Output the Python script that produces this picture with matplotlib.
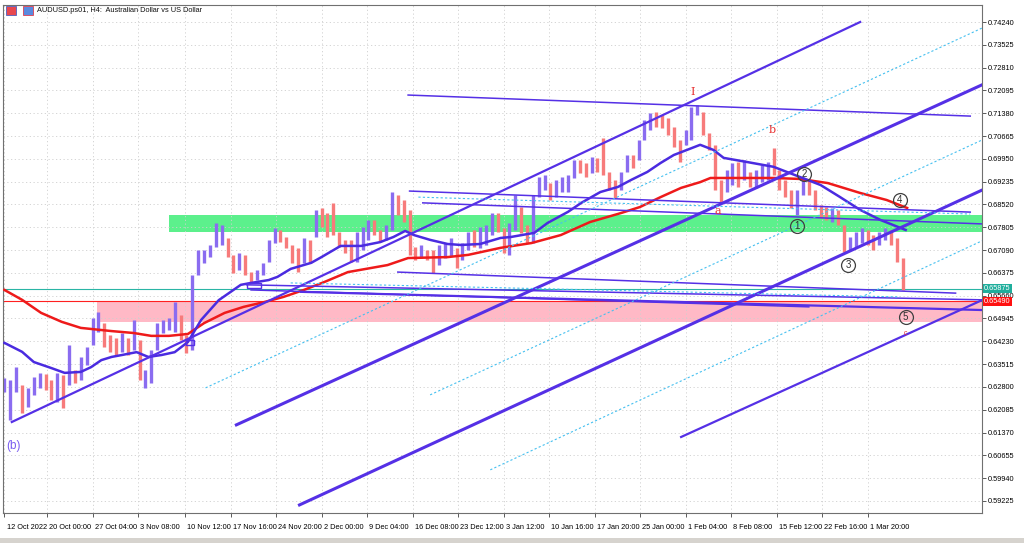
import matplotlib
matplotlib.use("Agg")
import matplotlib.pyplot as plt
import matplotlib.transforms as mtransforms
from matplotlib.patches import Rectangle

###### Data (x = H4 bar number, y = price)
# candles, every 4th H4 bar
bar_idx = list(range(0, 616, 4))
highs = [0.6308, 0.6302, 0.6342, 0.6286, 0.6277, 0.6311, 0.6324, 0.6321, 0.6302, 0.6324,
         0.6317, 0.6411, 0.6333, 0.6374, 0.6405, 0.6496, 0.6515, 0.6481, 0.6443, 0.6434,
         0.6449, 0.6434, 0.6490, 0.6427, 0.6333, 0.6396, 0.6481, 0.6490, 0.6496, 0.6546,
         0.6506, 0.6443, 0.6631, 0.6709, 0.6709, 0.6725, 0.6794, 0.6788, 0.6747, 0.6694,
         0.6700, 0.6694, 0.6640, 0.6647, 0.6669, 0.6741, 0.6778, 0.6772, 0.6750, 0.6725,
         0.6716, 0.6747, 0.6741, 0.6835, 0.6841, 0.6825, 0.6857, 0.6766, 0.6741, 0.6741,
         0.6766, 0.6781, 0.6803, 0.6803, 0.6772, 0.6788, 0.6891, 0.6882, 0.6866, 0.6835,
         0.6719, 0.6725, 0.6709, 0.6709, 0.6725, 0.6731, 0.6747, 0.6716, 0.6731, 0.6766,
         0.6772, 0.6781, 0.6788, 0.6825, 0.6825, 0.6778, 0.6794, 0.6882, 0.6844, 0.6788,
         0.6882, 0.6938, 0.6945, 0.6920, 0.6929, 0.6938, 0.6945, 0.6991, 0.6991, 0.6982,
         0.7001, 0.6998, 0.7060, 0.6954, 0.6929, 0.6954, 0.7007, 0.7007, 0.7054, 0.7117,
         0.7139, 0.7142, 0.7133, 0.7123, 0.7095, 0.7054, 0.7086, 0.7158, 0.7164, 0.7142,
         0.7076, 0.7039, 0.6929, 0.6960, 0.6982, 0.6985, 0.6991, 0.6954, 0.6960, 0.6976,
         0.6985, 0.7029, 0.6960, 0.6929, 0.6898, 0.6898, 0.6938, 0.6929, 0.6898, 0.6851,
         0.6844, 0.6841, 0.6835, 0.6788, 0.6750, 0.6766, 0.6778, 0.6772, 0.6756, 0.6766,
         0.6778, 0.6772, 0.6747, 0.6684]
lows = [0.6264, 0.6176, 0.6264, 0.6198, 0.6217, 0.6255, 0.6277, 0.6271, 0.6239, 0.6233,
        0.6214, 0.6286, 0.6292, 0.6302, 0.6349, 0.6411, 0.6452, 0.6405, 0.6389, 0.6380,
        0.6389, 0.6380, 0.6396, 0.6302, 0.6277, 0.6292, 0.6396, 0.6449, 0.6458, 0.6452,
        0.6427, 0.6386, 0.6396, 0.6631, 0.6669, 0.6687, 0.6719, 0.6725, 0.6687, 0.6637,
        0.6647, 0.6631, 0.6609, 0.6615, 0.6631, 0.6672, 0.6731, 0.6734, 0.6716, 0.6669,
        0.6640, 0.6669, 0.6669, 0.6750, 0.6781, 0.6750, 0.6756, 0.6719, 0.6700, 0.6672,
        0.6672, 0.6709, 0.6741, 0.6756, 0.6734, 0.6741, 0.6772, 0.6819, 0.6797, 0.6694,
        0.6678, 0.6684, 0.6678, 0.6637, 0.6662, 0.6684, 0.6691, 0.6653, 0.6678, 0.6709,
        0.6719, 0.6716, 0.6725, 0.6756, 0.6766, 0.6700, 0.6694, 0.6772, 0.6763, 0.6731,
        0.6731, 0.6876, 0.6898, 0.6866, 0.6876, 0.6891, 0.6891, 0.6935, 0.6951, 0.6938,
        0.6951, 0.6954, 0.6945, 0.6898, 0.6873, 0.6898, 0.6954, 0.6966, 0.6991, 0.7054,
        0.7086, 0.7095, 0.7092, 0.7070, 0.7032, 0.6985, 0.7039, 0.7054, 0.7133, 0.7070,
        0.7023, 0.6898, 0.6860, 0.6891, 0.6913, 0.6907, 0.6929, 0.6907, 0.6904, 0.6923,
        0.6929, 0.6945, 0.6898, 0.6876, 0.6841, 0.6819, 0.6882, 0.6882, 0.6835, 0.6810,
        0.6803, 0.6797, 0.6788, 0.6703, 0.6709, 0.6719, 0.6731, 0.6725, 0.6709, 0.6725,
        0.6741, 0.6725, 0.6672, 0.6584]
closes = [0.6286, 0.6292, 0.6317, 0.6224, 0.6255, 0.6302, 0.6308, 0.6286, 0.6255, 0.6311,
          0.6271, 0.6380, 0.6308, 0.6358, 0.6396, 0.6474, 0.6474, 0.6427, 0.6411, 0.6405,
          0.6427, 0.6411, 0.6427, 0.6308, 0.6317, 0.6380, 0.6458, 0.6474, 0.6484, 0.6490,
          0.6443, 0.6411, 0.6600, 0.6684, 0.6694, 0.6709, 0.6756, 0.6772, 0.6709, 0.6662,
          0.6678, 0.6647, 0.6622, 0.6631, 0.6662, 0.6725, 0.6756, 0.6747, 0.6734, 0.6694,
          0.6678, 0.6725, 0.6709, 0.6819, 0.6803, 0.6788, 0.6772, 0.6734, 0.6716, 0.6694,
          0.6741, 0.6756, 0.6788, 0.6772, 0.6756, 0.6778, 0.6866, 0.6851, 0.6819, 0.6709,
          0.6694, 0.6709, 0.6694, 0.6684, 0.6709, 0.6716, 0.6725, 0.6703, 0.6716, 0.6750,
          0.6741, 0.6756, 0.6772, 0.6803, 0.6788, 0.6741, 0.6772, 0.6851, 0.6788, 0.6756,
          0.6866, 0.6913, 0.6913, 0.6898, 0.6913, 0.6923, 0.6929, 0.6976, 0.6966, 0.6960,
          0.6985, 0.6976, 0.6954, 0.6913, 0.6898, 0.6945, 0.6991, 0.6985, 0.7039, 0.7101,
          0.7123, 0.7117, 0.7111, 0.7092, 0.7054, 0.7039, 0.7070, 0.7148, 0.7148, 0.7086,
          0.7039, 0.6913, 0.6898, 0.6935, 0.6960, 0.6945, 0.6954, 0.6929, 0.6935, 0.6960,
          0.6966, 0.6960, 0.6913, 0.6888, 0.6866, 0.6882, 0.6929, 0.6898, 0.6851, 0.6829,
          0.6819, 0.6829, 0.6803, 0.6725, 0.6725, 0.6747, 0.6756, 0.6741, 0.6734, 0.6747,
          0.6766, 0.6741, 0.6684, 0.65875]

# moving averages
blue_ma_x = [0, 12, 20, 32, 41, 52, 59, 66, 73, 80, 90, 98, 107, 116, 125, 134, 146, 156, 161,
             168, 180, 186, 195, 209, 216, 229, 243, 256, 265, 273, 279, 290, 302, 311, 324,
             338, 345, 361, 370, 384, 393, 406, 418, 427, 438, 447, 456, 465, 474, 483, 490,
             506, 524, 542, 556, 569, 583, 597, 614]
blue_ma_y = [0.6418, 0.6390, 0.6358, 0.6339, 0.6324, 0.6327, 0.6342, 0.6364, 0.6374, 0.6380,
             0.6389, 0.6374, 0.6380, 0.6389, 0.6421, 0.6490, 0.6552, 0.6584, 0.6600, 0.6606,
             0.6615, 0.6625, 0.6650, 0.6669, 0.6687, 0.6722, 0.6722, 0.6734, 0.6750, 0.6769,
             0.6756, 0.6741, 0.6728, 0.6725, 0.6728, 0.6747, 0.6750, 0.6763, 0.6794, 0.6829,
             0.6857, 0.6891, 0.6907, 0.6929, 0.6954, 0.6982, 0.7007, 0.7023, 0.7039, 0.7023,
             0.6998, 0.6985, 0.6970, 0.6938, 0.6913, 0.6876, 0.6835, 0.6803, 0.6772]
red_ma_x = [0, 12, 25, 39, 52, 73, 88, 100, 112, 125, 136, 150, 163, 177, 190, 204, 218, 234,
            261, 275, 302, 316, 338, 359, 379, 399, 420, 433, 447, 461, 474, 481, 524, 542,
            561, 583, 601, 615]
red_ma_y = [0.6584, 0.6553, 0.6512, 0.6484, 0.6465, 0.6455, 0.6449, 0.6440, 0.6440, 0.6446,
            0.6480, 0.6512, 0.6531, 0.6546, 0.6562, 0.6584, 0.6609, 0.6640, 0.6662, 0.6684,
            0.6687, 0.6694, 0.6716, 0.6731, 0.6756, 0.6797, 0.6825, 0.6844, 0.6875, 0.6904,
            0.6922, 0.6935, 0.6935, 0.6932, 0.6919, 0.6888, 0.6866, 0.6841]

# zones (start bar, low price, high price)
green_zone = (112, 0.6766, 0.6819)
pink_zone = (63, 0.6484, 0.6549)
bid_price = 0.65875
level_price = 0.65490

# trend lines: (bar0, price0, bar1, price1)
thick_lines = [(158, 0.6161, 666, 0.7227),
               (201, 0.5910, 666, 0.6897)]
medium_lines = [(5, 0.6170, 583, 0.7424),
                (461, 0.6123, 666, 0.6552),
                (202, 0.6578, 666, 0.6521)]
thin_lines = [(275, 0.7195, 658, 0.7129),
              (276, 0.6894, 658, 0.6828),
              (285, 0.6857, 666, 0.6791),
              (268, 0.6640, 648, 0.6574),
              (165, 0.6600, 666, 0.6553),
              (168, 0.6584, 548, 0.6531)]
dotted_lines = [(137, 0.6277, 666, 0.7405),
                (290, 0.6255, 666, 0.7054),
                (331, 0.6020, 666, 0.6738),
                (282, 0.6875, 658, 0.6822),
                (195, 0.6606, 610, 0.6562)]
small_boxes = [(124, 0.6412, 129, 0.6427), (165, 0.6591, 175, 0.6606)]

# wave labels
red_labels = [("I", 469, 0.7205), ("b", 523, 0.7085), ("a", 486, 0.6832)]
circle_labels = [("1", 540, 0.6784), ("2", 545, 0.6948), ("3", 575, 0.6662),
                 ("4", 610, 0.6866), ("5", 614, 0.6499)]

date_pos = [0, 29, 60, 91, 123, 154, 185, 216, 247, 278, 309, 340, 371, 402, 433, 464,
            495, 526, 557, 588]
date_labels = ["12 Oct 2022", "20 Oct 00:00", "27 Oct 04:00", "3 Nov 08:00", "10 Nov 12:00",
               "17 Nov 16:00", "24 Nov 20:00", "2 Dec 00:00", "9 Dec 04:00", "16 Dec 08:00",
               "23 Dec 12:00", "3 Jan 12:00", "10 Jan 16:00", "17 Jan 20:00", "25 Jan 00:00",
               "1 Feb 04:00", "8 Feb 08:00", "15 Feb 12:00", "22 Feb 16:00", "1 Mar 20:00"]
price_ticks = [0.74240, 0.73525, 0.72810, 0.72095, 0.71380, 0.70665, 0.69950, 0.69235,
               0.68520, 0.67805, 0.67090, 0.66375, 0.65660, 0.64945, 0.64230, 0.63515,
               0.62800, 0.62085, 0.61370, 0.60655, 0.59940, 0.59225]

###### Plotting
plt.rcParams['font.family'] = ['Liberation Sans', 'DejaVu Sans']
LINE = '#5530e6'
fig = plt.figure(figsize=(10.24, 5.43), dpi=100)
ax = fig.add_axes([3/1024, 30/543, 979/1024, 508/543])
ax.set_xlim(-1, 666)
ax.set_ylim(0.58847, 0.74773)

# zones and horizontal levels
ax.add_patch(Rectangle((green_zone[0], green_zone[1]), 700, green_zone[2]-green_zone[1],
                       color='#5cf08c', lw=0, zorder=0.5))
ax.add_patch(Rectangle((pink_zone[0], pink_zone[1]), 700, pink_zone[2]-pink_zone[1],
                       color='#ffb9c6', lw=0, zorder=0.5))
ax.axhline(bid_price, color='#2ab5a5', lw=0.8, zorder=1)
ax.axhline(level_price, color='#ff2020', lw=0.8, zorder=1)

# candles
opens = [closes[0]] + closes[:-1]
cols = ['#8a6cf0' if c >= o else '#f77b7b' for o, c in zip(opens, closes)]
ax.vlines(bar_idx, lows, highs, colors=cols, lw=2.4, zorder=2)

# moving averages
ax.plot(red_ma_x, red_ma_y, color='#ee1a1a', lw=1.8, zorder=3)
ax.plot(blue_ma_x, blue_ma_y, color='#4a2be0', lw=1.8, zorder=3)

# trend lines
for x0, y0, x1, y1 in thick_lines:
    ax.plot([x0, x1], [y0, y1], color=LINE, lw=2.2, zorder=4)
for x0, y0, x1, y1 in medium_lines:
    ax.plot([x0, x1], [y0, y1], color=LINE, lw=1.6, zorder=4)
for x0, y0, x1, y1 in thin_lines:
    ax.plot([x0, x1], [y0, y1], color=LINE, lw=1.1, zorder=4)
for x0, y0, x1, y1 in dotted_lines:
    ax.plot([x0, x1], [y0, y1], color='#45c0f0', lw=0.8, ls=(0, (2, 2)), zorder=4)
for x0, y0, x1, y1 in small_boxes:
    ax.add_patch(Rectangle((x0, y0), x1-x0, y1-y0, fill=False, ec=LINE, lw=1, zorder=4))

# wave labels
for t, x, y in red_labels:
    ax.text(x, y, t, color='#e83030', fontsize=8, ha='center', va='center',
            family='DejaVu Serif', zorder=5)
for t, x, y in circle_labels:
    ax.plot(x, y, 'o', ms=10, mfc='none', mec='#404040', mew=0.9, zorder=5)
    ax.text(x, y, t, color='#303030', fontsize=7, ha='center', va='center', zorder=5)
ax.text(614, 0.6449, "c", color='#e83030', fontsize=5, ha='center', va='center', zorder=5)
ax.text(6, 0.6095, "(b)", color='#7a5cf0', fontsize=8.5, ha='center', va='center', zorder=5)

# axes styling
ax.set_xticks(date_pos)
ax.set_xticklabels(date_labels)
ax.set_yticks(price_ticks)
ax.set_yticklabels([f"{p:.5f}" for p in price_ticks])
ax.yaxis.tick_right()
ax.tick_params(axis='x', length=3, width=0.6, pad=5, labelsize=5.3, color='#404040')
ax.tick_params(axis='y', length=3, width=0.6, pad=1.5, labelsize=5.3, color='#404040')
offset = mtransforms.ScaledTranslation(1.5/72, 0, fig.dpi_scale_trans)
for lab in ax.get_xticklabels():
    lab.set_horizontalalignment('left')
    lab.set_transform(lab.get_transform() + offset)
ax.grid(True, color='#cfcfcf', ls=(0, (1.5, 3)), lw=0.6, zorder=0)
ax.set_axisbelow(True)
for s in ax.spines.values():
    s.set_color('#707070')
    s.set_linewidth(0.8)

# current price boxes on the price scale
trans = mtransforms.blended_transform_factory(ax.transAxes, ax.transData)
ax.text(1.002, bid_price, "0.65875", transform=trans, fontsize=5.3, color='white', va='center',
        ha='left', bbox=dict(boxstyle='square,pad=0.15', fc='#1fae9c', ec='none'), zorder=6,
        clip_on=False)
ax.text(1.002, level_price, "0.65490", transform=trans, fontsize=5.3, color='white', va='center',
        ha='left', bbox=dict(boxstyle='square,pad=0.15', fc='#ff1010', ec='none'), zorder=6,
        clip_on=False)

# header and bottom strip
fig.patches.append(Rectangle((6/1024, 1-15/543), 10/1024, 9/543, transform=fig.transFigure,
                             fc='#e8484f', ec='#5060c0', lw=0.6))
fig.patches.append(Rectangle((23/1024, 1-15/543), 10/1024, 9/543, transform=fig.transFigure,
                             fc='#5a8ae0', ec='#e04050', lw=0.6))
fig.text(37/1024, 1-10.5/543, "AUDUSD.ps01, H4:  Australian Dollar vs US Dollar",
         fontsize=5.3, va='center', ha='left', color='#101010')
fig.patches.append(Rectangle((0, 0), 1, 5/543, transform=fig.transFigure,
                             fc='#d6d3ce', ec='none'))

plt.savefig("out.png", dpi=100)
